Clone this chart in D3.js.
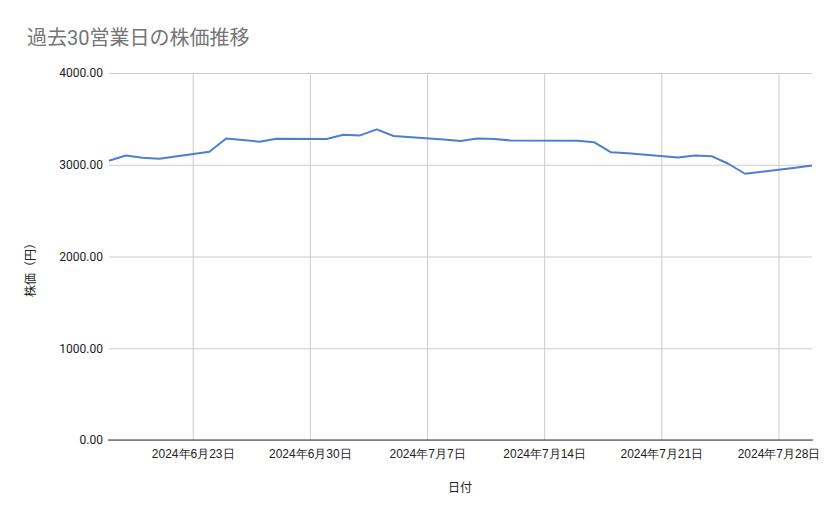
<!DOCTYPE html>
<html>
<head>
<meta charset="utf-8">
<script src="https://cdn.jsdelivr.net/npm/d3@7"></script>
<style>
  body { margin: 0; background: #fff; }
  svg { display: block; font-family: Roboto, "Noto Sans CJK JP", sans-serif; }
</style>
</head>
<body>
<div class="chart"></div>
<script>
// 過去30営業日の株価推移 - line chart

var w = 839, h = 519;

// trading days (JP holiday 7/15 skipped)
var dates = [
  '2024-06-18', '2024-06-19', '2024-06-20', '2024-06-21',
  '2024-06-24', '2024-06-25', '2024-06-26', '2024-06-27', '2024-06-28',
  '2024-07-01', '2024-07-02', '2024-07-03', '2024-07-04', '2024-07-05',
  '2024-07-08', '2024-07-09', '2024-07-10', '2024-07-11', '2024-07-12',
  '2024-07-16', '2024-07-17', '2024-07-18', '2024-07-19',
  '2024-07-22', '2024-07-23', '2024-07-24', '2024-07-25', '2024-07-26',
  '2024-07-29', '2024-07-30'
];
var prices = [
  3044, 3101, 3076, 3065,
  3142, 3287, 3269, 3251, 3284,
  3280, 3327, 3320, 3385, 3313,
  3276, 3258, 3287, 3280, 3265,
  3262, 3244, 3135, 3124,
  3080, 3102, 3094, 3011, 2902,
  2967, 2993
];
var xTickDates = ['2024-06-23', '2024-06-30', '2024-07-07', '2024-07-14', '2024-07-21', '2024-07-28'];
var xTickLabels = ['2024年6月23日', '2024年6月30日', '2024年7月7日', '2024年7月14日', '2024年7月21日', '2024年7月28日'];
var yTicks = [0, 1000, 2000, 3000, 4000];

var parse = d3.timeParse('%Y-%m-%d');
var data = dates.map(function(d, i) { return { date: parse(d), value: prices[i] }; });

// plot area
var pLeft = 109, pRight = 812, pTop = 73, pBottom = 440;

var x = d3.scaleTime()
  .domain(d3.extent(data, function(d) { return d.date; }))
  .range([pLeft, pRight]);
var y = d3.scaleLinear().domain([0, 4000]).range([pBottom, pTop]);

var svg = d3.select('.chart').append('svg')
  .attr('width', w)
  .attr('height', h);

// title
svg.append('text')
  .attr('x', 27).attr('y', 45)
  .attr('font-size', 20)
  .attr('fill', '#757575')
  .text('過去30営業日の株価推移');

// horizontal grid + y labels
var yAxis = d3.axisLeft(y)
  .tickValues(yTicks)
  .tickFormat(d3.format('.2f'))
  .tickSize(-(pRight - pLeft))
  .tickPadding(6);

var gy = svg.append('g')
  .attr('transform', 'translate(' + pLeft + ',0)')
  .call(yAxis);
gy.select('.domain').remove();
gy.selectAll('.tick line').attr('stroke', '#cccccc');
gy.selectAll('.tick text').attr('font-size', 12).attr('fill', '#222')
  .attr('font-family', 'Roboto, sans-serif');

// vertical grid + x labels
var xAxis = d3.axisBottom(x)
  .tickValues(xTickDates.map(parse))
  .tickFormat(function(d, i) { return xTickLabels[i]; })
  .tickSize(-(pBottom - pTop))
  .tickPadding(9);

var gx = svg.append('g')
  .attr('transform', 'translate(0,' + pBottom + ')')
  .call(xAxis);
gx.select('.domain').remove();
gx.selectAll('.tick line').attr('stroke', '#cccccc');
gx.selectAll('.tick text').attr('font-size', 12).attr('fill', '#222');

// baseline
svg.append('line')
  .attr('x1', pLeft - 1).attr('x2', pRight + 1)
  .attr('y1', y(0)).attr('y2', y(0))
  .attr('stroke', '#333')
  .attr('stroke-width', 1);

// price line
var line = d3.line()
  .x(function(d) { return x(d.date); })
  .y(function(d) { return y(d.value); });

svg.append('path')
  .datum(data)
  .attr('fill', 'none')
  .attr('stroke', '#4a7fd4')
  .attr('stroke-width', 2)
  .attr('stroke-linejoin', 'round')
  .attr('d', line);

// axis titles
svg.append('text')
  .attr('x', 460).attr('y', 492)
  .attr('text-anchor', 'middle')
  .attr('font-size', 12)
  .attr('fill', '#222')
  .text('日付');

svg.append('text')
  .attr('transform', 'translate(35,' + 267 + ') rotate(-90)')
  .attr('text-anchor', 'middle')
  .attr('font-size', 12)
  .attr('fill', '#222')
  .text('株価（円）');
</script>
</body>
</html>
